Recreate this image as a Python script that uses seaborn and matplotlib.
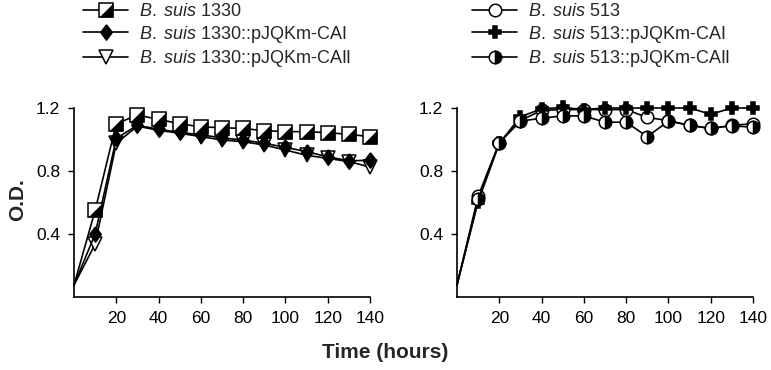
import numpy as np
import pandas as pd
import matplotlib
matplotlib.use("Agg")
import matplotlib.pyplot as plt
import seaborn as sns
from matplotlib.legend_handler import HandlerTuple

# time points (hours)
hours = [0, 10, 20, 30, 40, 50, 60, 70, 80, 90, 100, 110, 120, 130, 140]

# left panel: B. suis 1330 strains
od_1330 = [0.076, 0.55, 1.10, 1.155, 1.128, 1.10, 1.08, 1.075, 1.07, 1.056, 1.05, 1.05, 1.043, 1.033, 1.018]
od_1330_cai = [0.076, 0.40, 1.007, 1.09, 1.065, 1.045, 1.03, 1.01, 0.997, 0.976, 0.95, 0.923, 0.89, 0.865, 0.868]
od_1330_caii = [0.076, 0.336, 0.976, 1.085, 1.058, 1.04, 1.018, 0.997, 0.986, 0.965, 0.933, 0.90, 0.88, 0.86, 0.825]

# right panel: B. suis 513 strains
od_513 = [0.076, 0.64, 0.98, 1.12, 1.185, 1.19, 1.19, 1.19, 1.19, 1.14, 1.12, 1.09, 1.07, 1.09, 1.10]
od_513_cai = [0.076, 0.605, 0.975, 1.145, 1.194, 1.204, 1.19, 1.2, 1.2, 1.2, 1.2, 1.2, 1.16, 1.2, 1.2]
od_513_caii = [0.076, 0.62, 0.98, 1.117, 1.135, 1.15, 1.15, 1.11, 1.11, 1.018, 1.117, 1.09, 1.07, 1.088, 1.077]

labels_left = [r"$\it{B.\;suis}$ 1330", r"$\it{B.\;suis}$ 1330::pJQKm-CAI",
               r"$\it{B.\;suis}$ 1330::pJQKm-CAII"]
labels_right = [r"$\it{B.\;suis}$ 513", r"$\it{B.\;suis}$ 513::pJQKm-CAI",
                r"$\it{B.\;suis}$ 513::pJQKm-CAII"]
xticks = [20, 40, 60, 80, 100, 120, 140]
yticks = [0.4, 0.8, 1.2]

sns.set_style("ticks")
plt.rcParams["font.family"] = ["Liberation Sans", "DejaVu Sans"]
plt.rcParams["mathtext.fontset"] = "custom"
plt.rcParams["mathtext.it"] = "Liberation Sans:italic"
plt.rcParams["mathtext.rm"] = "Liberation Sans"

fig = plt.figure(figsize=(7.71, 3.70), dpi=100)
ax1 = fig.add_axes([74 / 771, 1 - 297 / 370, 296 / 771, 189 / 370])
ax2 = fig.add_axes([457 / 771, 1 - 297 / 370, 296 / 771, 189 / 370])

df = pd.DataFrame({"hours": hours,
                   "a": od_1330, "b": od_1330_cai, "c": od_1330_caii,
                   "d": od_513, "e": od_513_cai, "f": od_513_caii})

tri = [(1, 1), (1, -1), (-1, -1), (1, 1)]
diam = [(0, 1), (0.75, 0), (0, -1), (-0.75, 0), (0, 1)]
common = dict(color="black", linewidth=1.2, markeredgecolor="black",
              markeredgewidth=1.1, markevery=slice(1, None), clip_on=False)

# left panel
sns.lineplot(data=df, x="hours", y="c", ax=ax1, marker="v", markersize=10,
             markerfacecolor="white", **common)
sns.lineplot(data=df, x="hours", y="b", ax=ax1, marker=diam, markersize=11,
             markerfacecolor="black", **common)
sns.lineplot(data=df, x="hours", y="a", ax=ax1, marker="s", markersize=10,
             markerfacecolor="white", **common)
ax1.plot(hours[1:], od_1330[1:], linestyle="none", marker=tri, markersize=10,
         markerfacecolor="black", markeredgewidth=0, clip_on=False)

# right panel
sns.lineplot(data=df, x="hours", y="d", ax=ax2, marker="o", markersize=9,
             markerfacecolor="white", **common)
sns.lineplot(data=df, x="hours", y="e", ax=ax2, marker="P", markersize=9,
             markerfacecolor="black", **common)
sns.lineplot(data=df, x="hours", y="f", ax=ax2, marker="o", markersize=9,
             markerfacecolor="black", markerfacecoloralt="white",
             fillstyle="right", **common)

for ax in (ax1, ax2):
    ax.set_xlim(0, 140)
    ax.set_ylim(0, 1.2)
    ax.set_xticks(xticks)
    ax.set_yticks(yticks)
    ax.set_yticklabels(["0.4", "0.8", "1.2"])
    ax.set_xlabel("")
    ax.set_ylabel("")
    ax.tick_params(direction="out", length=4, width=1, labelsize=12.5, colors="black", pad=6)
    for s in ("left", "bottom"):
        ax.spines[s].set_linewidth(1.2)
        ax.spines[s].set_color("black")
    sns.despine(ax=ax)

fig.text(18 / 771, 1 - 200 / 370, "O.D.", rotation=90, ha="center", va="center",
         fontsize=15, fontweight="bold")
fig.text(385 / 771, 1 - 353 / 370, "Time (hours)", ha="center", va="center",
         fontsize=15, fontweight="bold")

# legends
l_lines = ax1.get_lines()
h_sq = (l_lines[2], l_lines[3])
h_left = [h_sq, l_lines[1], l_lines[0]]
r_lines = ax2.get_lines()
h_right = [r_lines[0], r_lines[1], r_lines[2]]

leg_kw = dict(loc="upper left", frameon=False, fontsize=13, handlelength=2.5,
              handletextpad=0.6, labelspacing=0.2, borderpad=0, borderaxespad=0,
              handler_map={tuple: HandlerTuple(ndivide=1, pad=0)})
fig.legend(h_left, labels_left, bbox_to_anchor=(83 / 771, 1 - 3 / 370), **leg_kw)
fig.legend(h_right, labels_right, bbox_to_anchor=(472 / 771, 1 - 3 / 370), **leg_kw)

fig.savefig("out.png", dpi=100)
